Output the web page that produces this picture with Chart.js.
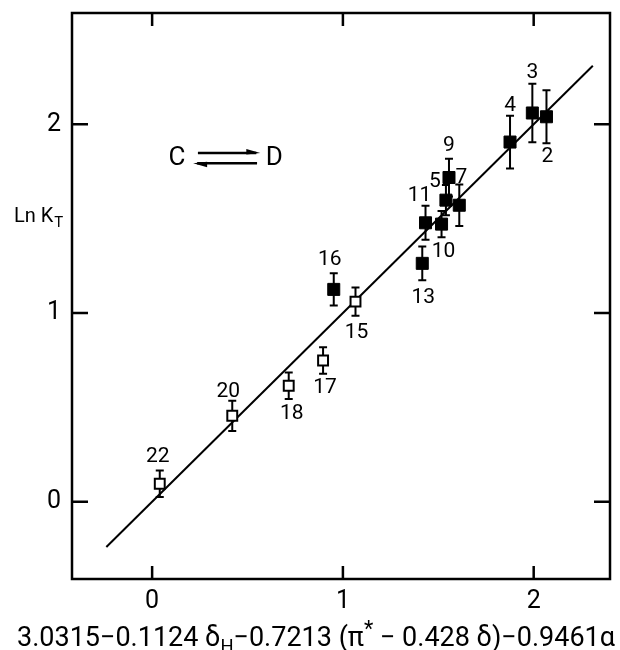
<!DOCTYPE html>
<html><head><meta charset="utf-8">
<script src="https://cdn.jsdelivr.net/npm/chart.js@4/dist/chart.umd.min.js"></script>
<style>html,body{margin:0;padding:0;background:#fff}#c{display:block}</style>
</head><body>
<canvas id="c" width="620" height="650"></canvas>
<script>
// ---- data ----
const openIds = ['22','20','18','17','15'];
const openX = [0.04, 0.42, 0.716, 0.896, 1.066];
const openY = [0.095, 0.455, 0.614, 0.748, 1.06];
const openErr = [0.07, 0.08, 0.07, 0.07, 0.075];

const filledIds = ['16','13','11','10','5','9','7','4','3','2'];
const filledX = [0.952, 1.416, 1.433, 1.517, 1.54, 1.556, 1.61, 1.876, 1.993, 2.067];
const filledY = [1.125, 1.263, 1.478, 1.471, 1.598, 1.718, 1.571, 1.906, 2.06, 2.04];
const filledErr = [0.085, 0.09, 0.09, 0.07, 0.08, 0.10, 0.11, 0.14, 0.155, 0.14];

const fitX = [-0.24, 2.31];
const fitY = [-0.24, 2.31];

const xTicks = [0, 1, 2];
const yTicks = [0, 1, 2];

// label placement (pixel offsets from point), layout only
const openLabelOff = [[-2,-27],[-4,-24],[3,28],[2,27],[1,31]];
const filledLabelOff = [[-4,-30],[1,34],[-6,-27],[2,28],[-11,-18],[0,-32],[2,-28],[0,-36],[0,-40],[1,40]];

const xMin=-0.42, xMax=2.4, yMin=-0.41, yMax=2.59;
const FONT = 'Roboto, "DejaVu Sans", sans-serif';

const toPts = (xs, ys) => xs.map((x,i)=>({x:x, y:ys[i]}));

const overlay = {
  id:'overlay',
  beforeDatasetsDraw(chart){
    const ctx = chart.ctx, xs = chart.scales.x, ys = chart.scales.y;
    ctx.save();
    ctx.strokeStyle='#000'; ctx.lineWidth=2;
    const bars = (X,Y,E)=>{
      X.forEach((xv,i)=>{
        const px = xs.getPixelForValue(xv);
        const t = ys.getPixelForValue(Y[i]+E[i]);
        const b = ys.getPixelForValue(Y[i]-E[i]);
        ctx.beginPath();
        ctx.moveTo(px,t); ctx.lineTo(px,b);
        ctx.moveTo(px-4,t); ctx.lineTo(px+4,t);
        ctx.moveTo(px-4,b); ctx.lineTo(px+4,b);
        ctx.stroke();
      });
    };
    bars(openX,openY,openErr);
    bars(filledX,filledY,filledErr);
    ctx.restore();
  },
  afterDraw(chart){
    const ctx = chart.ctx, a = chart.chartArea, xs = chart.scales.x, ys = chart.scales.y;
    ctx.save();
    // frame
    ctx.strokeStyle='#000'; ctx.lineWidth=2.5;
    ctx.strokeRect(a.left, a.top, a.right-a.left, a.bottom-a.top);
    // inward ticks
    xTicks.forEach(v=>{
      const px = xs.getPixelForValue(v);
      ctx.beginPath();
      ctx.moveTo(px,a.bottom); ctx.lineTo(px,a.bottom-13);
      ctx.moveTo(px,a.top); ctx.lineTo(px,a.top+13);
      ctx.stroke();
    });
    yTicks.forEach(v=>{
      const py = ys.getPixelForValue(v);
      ctx.beginPath();
      ctx.moveTo(a.left,py); ctx.lineTo(a.left+16,py);
      ctx.moveTo(a.right,py); ctx.lineTo(a.right-16,py);
      ctx.stroke();
    });
    // point labels
    ctx.fillStyle='#000';
    ctx.font = '21px '+FONT;
    ctx.textAlign='center'; ctx.textBaseline='middle';
    const labs = (ids,X,Y,off)=>{
      ids.forEach((id,i)=>{
        ctx.fillText(id, xs.getPixelForValue(X[i])+off[i][0], ys.getPixelForValue(Y[i])+off[i][1]);
      });
    };
    labs(openIds,openX,openY,openLabelOff);
    labs(filledIds,filledX,filledY,filledLabelOff);

    // C <=> D annotation
    ctx.font = '26px '+FONT;
    ctx.fillText('C', xs.getPixelForValue(0.13), ys.getPixelForValue(1.82));
    ctx.fillText('D', xs.getPixelForValue(0.64), ys.getPixelForValue(1.82));
    ctx.lineWidth=2.5;
    const yTop = ys.getPixelForValue(1.848), yBot = ys.getPixelForValue(1.794);
    const x1 = xs.getPixelForValue(0.24), x2 = xs.getPixelForValue(0.567);
    const x3 = xs.getPixelForValue(0.215), x4 = xs.getPixelForValue(0.55);
    ctx.beginPath(); ctx.moveTo(x1,yTop); ctx.lineTo(x2-4,yTop); ctx.stroke();
    ctx.beginPath(); ctx.moveTo(x2,yTop); ctx.lineTo(x2-14,yTop-4); ctx.lineTo(x2-14,yTop+1.5); ctx.closePath(); ctx.fill();
    ctx.beginPath(); ctx.moveTo(x3+4,yBot); ctx.lineTo(x4,yBot); ctx.stroke();
    ctx.beginPath(); ctx.moveTo(x3,yBot); ctx.lineTo(x3+14,yBot-1.5); ctx.lineTo(x3+14,yBot+4); ctx.closePath(); ctx.fill();

    // y title: Ln K_T
    ctx.textAlign='left'; ctx.textBaseline='alphabetic';
    ctx.font='20px '+FONT;
    let tx = 14, ty = 222;
    ctx.fillText('Ln K', tx, ty);
    tx += ctx.measureText('Ln K').width + 1;
    ctx.font='15px '+FONT;
    ctx.fillText('T', tx, ty+5);

    // x title with sub/superscripts
    const base = 27;
    const parts = [
      ['3.0315\u22120.1124 \u03b4', 1, 0],
      ['H', 0.68, 6],
      ['\u22120.7213 (\u03c0', 1, 0],
      ['*', 0.8, -10],
      [' \u2212 0.428 \u03b4)\u22120.9461\u03b1', 1, 0]
    ];
    let total = 0;
    parts.forEach(p=>{ ctx.font=(base*p[1])+'px '+FONT; total += ctx.measureText(p[0]).width; });
    let cx = 316 - total/2; const by = 646;
    parts.forEach(p=>{ ctx.font=(base*p[1])+'px '+FONT; ctx.fillText(p[0], cx, by+p[2]); cx += ctx.measureText(p[0]).width; });
    ctx.restore();
  }
};

new Chart(document.getElementById('c'), {
  type:'scatter',
  data:{
    datasets:[
      {label:'fit', type:'line', data:toPts(fitX,fitY), borderColor:'#000', borderWidth:2, pointRadius:0, fill:false, order:3},
      {label:'open', data:toPts(openX,openY), pointStyle:'rect', pointRadius:7, backgroundColor:'#fff', borderColor:'#000', borderWidth:2, order:1},
      {label:'filled', data:toPts(filledX,filledY), pointStyle:'rect', pointRadius:8.5, backgroundColor:'#000', borderColor:'#000', borderWidth:1, order:2}
    ]
  },
  options:{
    responsive:false, animation:false, devicePixelRatio:1,
    layout:{padding:{left:0,right:10,top:13,bottom:0}},
    plugins:{legend:{display:false}, tooltip:{enabled:false}},
    scales:{
      x:{type:'linear', min:xMin, max:xMax,
        grid:{display:false, drawTicks:false}, border:{display:false},
        afterBuildTicks:s=>{s.ticks = xTicks.map(v=>({value:v}));},
        afterFit:s=>{s.height=71; s.paddingLeft=0; s.paddingRight=0;},
        ticks:{padding:8, color:'#000', font:{family:FONT, size:25}, maxRotation:0}
      },
      y:{type:'linear', min:yMin, max:yMax,
        grid:{display:false, drawTicks:false}, border:{display:false},
        afterBuildTicks:s=>{s.ticks = yTicks.map(v=>({value:v}));},
        afterFit:s=>{s.width=72; s.paddingTop=0; s.paddingBottom=0;},
        ticks:{padding:11, color:'#000', font:{family:FONT, size:25}}
      }
    }
  },
  plugins:[overlay]
});
</script>
</body></html>
